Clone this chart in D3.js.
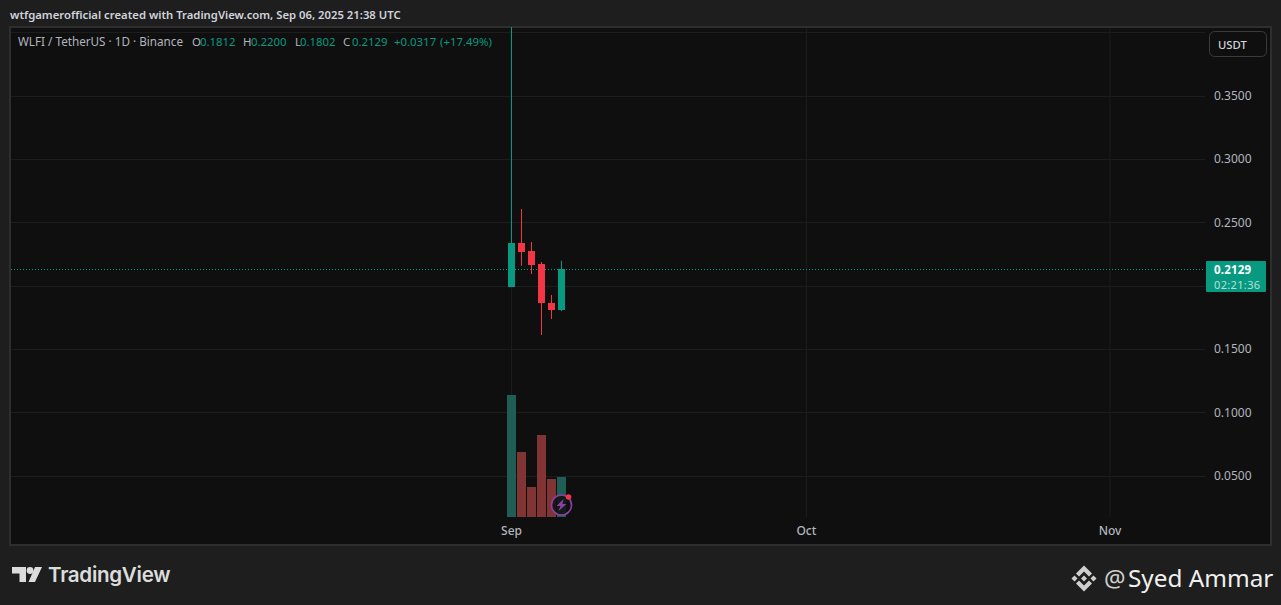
<!DOCTYPE html>
<html><head><meta charset="utf-8">
<script src="https://cdnjs.cloudflare.com/ajax/libs/d3/7.9.0/d3.min.js"></script>
<style>html,body{margin:0;padding:0;background:#1e1e1e;overflow:hidden}svg{display:block}text{font-family:"Noto Sans",sans-serif}</style>
</head><body><svg id="c" width="1281" height="605"></svg>
<script>
const dates=["2025-09-01","2025-09-02","2025-09-03","2025-09-04","2025-09-05","2025-09-06"];
const opens=[0.1992,0.2339,0.2276,0.2174,0.1866,0.1812];
const highs=[0.4600,0.2608,0.2347,0.2190,0.1929,0.2200];
const lows=[0.1992,0.2160,0.2095,0.1613,0.1739,0.1802];
const closes=[0.2339,0.2268,0.2166,0.1866,0.1811,0.2129];
const volumes=[1220,650,300,820,380,400];
const priceTicks=[0.05,0.10,0.15,0.20,0.25,0.30,0.35,0.40];
const priceLabels=[0.05,0.10,0.15,0.25,0.30,0.35];
const timeTicks=[["2025-09-01","Sep"],["2025-10-01","Oct"],["2025-11-01","Nov"]];
const legend=[["O",192,"#b2b5be"],["0.1812",200,"#089981"],["H",243,"#b2b5be"],["0.2200",251,"#089981"],["L",295,"#b2b5be"],["0.1802",300,"#089981"],["C",343,"#b2b5be"],["0.2129",352,"#089981"],["+0.0317",394,"#089981"],["(+17.49%)",440,"#089981"]];
const symbolTitle="WLFI / TetherUS · 1D · Binance";
const lastPrice=0.2129, countdown="02:21:36";

const UP="#089981",DOWN="#f23645",UPV="#1e5e55",DOWNV="#803434";
const svg=d3.select("#c");
const P={l:11,r:1270,t:28,b:544,axisX:1205,volBase:517};
const parse=d3.utcParse("%Y-%m-%d");
const x=d3.scaleUtc().domain([parse("2025-09-01"),parse("2025-09-06"),parse("2025-11-01")]).range([511.5,561.5,1110]);
const y=d3.scaleLinear().domain([0.05,0.35]).range([476,96]);
const v=d3.scaleLinear().domain([0,d3.max(volumes)]).range([P.volBase,395]);
const snap=p=>Math.round(y(p)-0.2);

svg.append("rect").attr("width",1281).attr("height",605).attr("fill","#1e1e1e");
svg.append("rect").attr("x",P.l-1).attr("y",P.t-1).attr("width",P.r-P.l+2).attr("height",P.b-P.t+2).attr("fill","#0f0f0f").attr("stroke","#2e2e2e").attr("stroke-width",2);
svg.append("defs").append("clipPath").attr("id","pane").append("rect").attr("x",P.l).attr("y",P.t-1).attr("width",P.axisX-P.l).attr("height",P.volBase-P.t+1);

svg.append("text").attr("x",10).attr("y",19).attr("font-size",11.3).attr("font-weight",600).attr("fill","#d1d4dc").text("wtfgamerofficial created with TradingView.com, Sep 06, 2025 21:38 UTC");

// grid
const grid=svg.append("g").attr("stroke","#1d1d1d").attr("stroke-width",1);
grid.selectAll("line.h").data(priceTicks).join("line").attr("class","h").attr("x1",P.l).attr("x2",P.axisX).attr("y1",d=>Math.floor(y(d)+.01)+.5).attr("y2",d=>Math.floor(y(d)+.01)+.5);
grid.selectAll("line.v").data(timeTicks).join("line").attr("class","v").attr("x1",d=>x(parse(d[0]))).attr("x2",d=>x(parse(d[0]))).attr("y1",P.t).attr("y2",P.volBase);

// volume
const rows=dates.map((d,i)=>({t:parse(d),o:opens[i],h:highs[i],l:lows[i],c:closes[i],v:volumes[i]}));
const vw=9;
svg.append("g").selectAll("rect").data(rows).join("rect")
 .attr("x",d=>x(d.t)-vw/2).attr("width",vw).attr("y",d=>v(d.v)).attr("height",d=>P.volBase-v(d.v))
 .attr("fill",d=>d.c>=d.o?UPV:DOWNV);

// last price line
svg.append("line").attr("x1",P.l).attr("x2",P.axisX).attr("y1",snap(lastPrice)+.5).attr("y2",snap(lastPrice)+.5)
 .attr("stroke",UP).attr("stroke-width",1).attr("stroke-dasharray","1 2");

// candles
const cg=svg.append("g").attr("clip-path","url(#pane)");
const bw=7;
cg.selectAll("line").data(rows).join("line").attr("x1",d=>x(d.t)).attr("x2",d=>x(d.t)).attr("y1",d=>y(d.h)).attr("y2",d=>y(d.l)).attr("stroke",d=>d.c>=d.o?UP:DOWN).attr("stroke-width",1);
cg.selectAll("rect").data(rows).join("rect").attr("x",d=>x(d.t)-bw/2).attr("width",bw)
 .attr("y",d=>snap(Math.max(d.o,d.c))).attr("height",d=>Math.max(1,snap(Math.min(d.o,d.c))-snap(Math.max(d.o,d.c))))
 .attr("fill",d=>d.c>=d.o?UP:DOWN);

// legend
svg.append("text").attr("x",18).attr("y",46).attr("font-size",11.7).attr("fill","#b2b5be").text(symbolTitle);
svg.append("g").attr("font-size",11.4).selectAll("text").data(legend).join("text").attr("x",d=>d[1]).attr("y",46).attr("fill",d=>d[2]).text(d=>d[0]);

// price axis
svg.append("g").attr("font-size",12).attr("fill","#b2b5be").selectAll("text").data(priceLabels).join("text").attr("x",1214).attr("y",d=>y(d)+4.1).text(d=>d3.format(".4f")(d));
// time axis
svg.append("g").attr("font-size",12).attr("font-weight",500).attr("fill","#b2b5be").attr("text-anchor","middle").selectAll("text").data(timeTicks).join("text").attr("x",d=>x(parse(d[0]))).attr("y",535).text(d=>d[1]);

// currency button
svg.append("rect").attr("x",1209.5).attr("y",31.5).attr("width",57).attr("height",25).attr("rx",5).attr("fill","#0f0f0f").attr("stroke","#3a3a3a");
svg.append("text").attr("x",1218).attr("y",49).attr("font-size",11.3).attr("font-weight",500).attr("fill","#d1d4dc").text("USDT");

// last price tag
svg.append("rect").attr("x",1206).attr("y",261).attr("width",60).attr("height",31).attr("fill",UP).attr("rx",1);
svg.append("text").attr("x",1214).attr("y",273.5).attr("font-size",11.5).attr("letter-spacing",0.2).attr("font-weight",700).attr("fill","#fff").text(d3.format(".4f")(lastPrice));
svg.append("text").attr("x",1214).attr("y",288.5).attr("font-size",11).attr("letter-spacing",0.35).attr("fill","#b5e0d9").text(countdown);

// event icon
const ic=svg.append("g").attr("transform","translate(561.5,505)");
ic.append("circle").attr("r",10).attr("fill","#0f0f0f").attr("fill-opacity",.85).attr("stroke","#8e3fa5").attr("stroke-width",1.6);
ic.append("path").attr("d","M2,-6 L-5,1 L-1,1 L-3,6 L5,-1 L1,-1 Z").attr("fill","#8e3fa5");
ic.append("circle").attr("cx",7).attr("cy",-8).attr("r",2.8).attr("fill","#f23645");

// TradingView logo
const lg=svg.append("g").attr("fill","#dcdcdc");
lg.append("path").attr("d","M12,567 H26 V582 H19.5 V573.5 H12 Z");
lg.append("circle").attr("cx",30).attr("cy",570.5).attr("r",3.4);
lg.append("path").attr("d","M35,567 H42 L35,582 H28.5 Z");
lg.append("text").attr("x",48).attr("y",582).attr("font-size",20.6).attr("font-weight",600).style("font-family","Inter,sans-serif").attr("letter-spacing","-0.3").text("TradingView");

// Binance-like mark and signature
const bm=svg.append("g").attr("fill","#cfcfcf").attr("transform","translate(1084,578.5)");
bm.append("path").attr("d","M0,-13 L8,-5 L5,-2 L0,-7 L-5,-2 L-8,-5 Z");
bm.append("path").attr("d","M0,13 L8,5 L5,2 L0,7 L-5,2 L-8,5 Z");
bm.append("path").attr("d","M-9.5,-3 L-6.5,0 L-9.5,3 L-12.5,0 Z");
bm.append("path").attr("d","M9.5,-3 L12.5,0 L9.5,3 L6.5,0 Z");
bm.append("path").attr("d","M0,-3 L3,0 L0,3 L-3,0 Z");
svg.append("text").attr("x",1104).attr("y",587).attr("font-size",24).attr("fill","#cfcfcf").text("@");
svg.append("text").attr("x",1128).attr("y",587).attr("font-size",24.3).attr("fill","#f0f0f0").text("Syed Ammar");
</script></body></html>
